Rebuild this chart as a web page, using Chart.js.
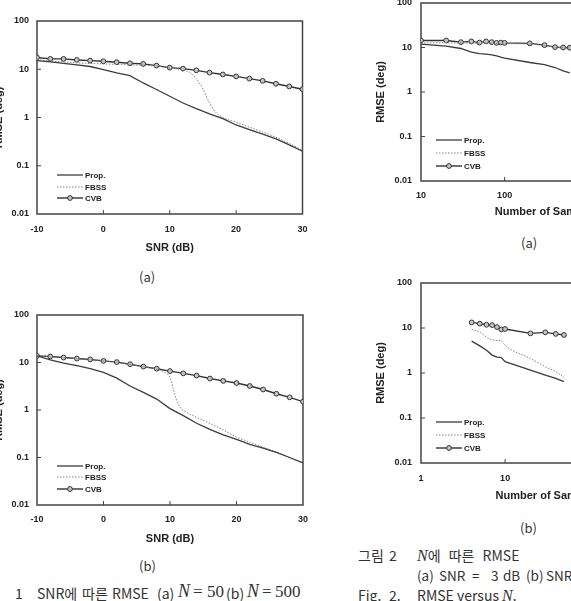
<!DOCTYPE html>
<html>
<head>
<meta charset="utf-8">
<script src="https://cdn.jsdelivr.net/npm/chart.js@4/dist/chart.umd.min.js"></script>
<style>
  html, body { margin: 0; padding: 0; background: #fff; }
  body { width: 571px; height: 601px; overflow: hidden; position: relative; }
  canvas { position: absolute; }
  .lbl { position: absolute; font-family: "Noto Sans CJK KR", "Noto Sans", sans-serif; font-size: 13px; line-height: 16px; color: #333; white-space: nowrap; }
  .cap { position: absolute; font-family: "Noto Sans CJK KR", "Noto Sans", sans-serif; font-size: 14px; line-height: 18px; color: #333; white-space: nowrap; }
  .sm { font-size: 13.5px; }
  .m { font-family: "Liberation Serif", "DejaVu Serif", serif; font-style: italic; font-size: 18px; }
  .mn { font-family: "Liberation Serif", "DejaVu Serif", serif; font-size: 17px; }
</style>
</head>
<body>
<canvas id="fig1a" width="330" height="259" style="left:-12px;top:0px"></canvas>
<canvas id="fig1b" width="330" height="250" style="left:-12px;top:300px"></canvas>
<canvas id="fig2a" width="324" height="243" style="left:370px;top:-20px"></canvas>
<canvas id="fig2b" width="324" height="247" style="left:370px;top:260px"></canvas>

<div class="lbl" style="left:139px;top:269px">(a)</div>
<div class="lbl" style="left:139px;top:558px">(b)</div>
<div class="lbl" style="left:521px;top:235px">(a)</div>
<div class="lbl" style="left:520px;top:520px">(b)</div>

<!-- Fig. 1 caption, placed word by word -->
<div class="cap" style="left:-25px;top:584px">그림</div>
<div class="cap" style="left:15px;top:584px">1</div>
<div class="cap" style="left:37px;top:584px">SNR에</div>
<div class="cap" style="left:82px;top:584px">따른</div>
<div class="cap" style="left:112px;top:584px">RMSE</div>
<div class="cap" style="left:157px;top:584px">(a)</div>
<div class="cap m" style="left:178px;top:582px">N</div>
<div class="cap mn" style="left:193px;top:583px">=</div>
<div class="cap mn" style="left:207px;top:583px">50</div>
<div class="cap" style="left:226px;top:584px">(b)</div>
<div class="cap m" style="left:247px;top:582px">N</div>
<div class="cap mn" style="left:262px;top:583px">=</div>
<div class="cap mn" style="left:275px;top:583px">500</div>

<!-- Fig. 2 caption -->
<div class="cap" style="left:358px;top:546px">그림</div>
<div class="cap" style="left:389px;top:546px">2</div>
<div class="cap" style="left:417px;top:546px;word-spacing:5px"><span class="m" style="font-size:16px">N</span>에 따른 RMSE</div>
<div class="cap sm" style="left:417px;top:566px">(a)</div>
<div class="cap sm" style="left:439px;top:566px">SNR</div>
<div class="cap sm" style="left:472px;top:566px">=</div>
<div class="cap sm" style="left:491px;top:566px">3</div>
<div class="cap sm" style="left:503px;top:566px">dB</div>
<div class="cap sm" style="left:526px;top:566px">(b)</div>
<div class="cap sm" style="left:546px;top:566px">SNR</div>
<div class="cap" style="left:358px;top:586px">Fig.</div>
<div class="cap" style="left:389px;top:586px">2.</div>
<div class="cap" style="left:417px;top:586px">RMSE versus <span class="m" style="font-size:16px">N</span>.</div>

<script>
// Fig. 1 - RMSE vs SNR
const snr = [-10, -8, -6, -4, -2, 0, 2, 4, 6, 8, 10, 12, 14, 16, 18, 20, 22, 24, 26, 28, 30];
const propA = [15.1, 14.2, 13.3, 12.3, 11.4, 9.8, 8.4, 7.4, 5.2, 3.8, 2.76, 2.0, 1.53, 1.19, 0.95, 0.70, 0.56, 0.45, 0.36, 0.27, 0.20];
const cvbA = [17.5, 16.4, 16.4, 15.6, 15.1, 14.6, 14.0, 13.3, 12.9, 11.9, 10.8, 10.3, 9.5, 8.5, 7.8, 7.1, 6.4, 5.75, 5.0, 4.4, 3.85];
const snrFbssA = [-10, -8, -6, -4, -2, 0, 2, 4, 6, 8, 10, 12, 13, 14, 15, 16, 17, 18, 20, 22, 24, 26, 28, 30];
const fbssA = [15.8, 14.8, 14.2, 13.6, 13.2, 12.9, 12.6, 12.3, 12.1, 11.6, 10.6, 9.6, 8.6, 6.4, 3.9, 2.0, 1.25, 1.0, 0.80, 0.63, 0.50, 0.39, 0.29, 0.21];

const propB = [13.8, 11.4, 9.7, 8.6, 7.4, 6.2, 4.7, 3.2, 2.35, 1.7, 1.07, 0.76, 0.525, 0.39, 0.30, 0.24, 0.19, 0.157, 0.128, 0.10, 0.077];
const cvbB = [13.8, 13.4, 12.7, 12.1, 11.6, 10.8, 10.2, 9.2, 8.2, 7.4, 6.6, 5.9, 5.3, 4.6, 4.1, 3.7, 3.2, 2.7, 2.2, 1.85, 1.5];
const snrFbssB = [-10, -8, -6, -4, -2, 0, 2, 4, 6, 8, 9, 10, 10.5, 11, 11.5, 12, 13, 14, 16, 18, 20, 22, 24, 26, 28, 30];
const fbssB = [13.6, 13.2, 12.6, 12.0, 11.5, 10.8, 10.1, 9.1, 8.1, 7.2, 6.4, 4.8, 2.8, 1.6, 1.15, 0.98, 0.82, 0.70, 0.52, 0.38, 0.27, 0.21, 0.165, 0.13, 0.098, 0.077];

// Fig. 2 - RMSE vs number of samples
const nA = [10, 20, 30, 40, 50, 60, 70, 80, 90, 100, 200, 300, 400, 500, 600];
const propNA = [11.9, 10.7, 9.5, 7.9, 7.3, 7.1, 6.85, 6.5, 6.1, 5.8, 4.6, 4.1, 3.55, 3.0, 2.7];
const fbssNA = [12.6, 12.8, 12.6, 12.6, 12.4, 12.5, 12.4, 12.3, 12.3, 12.2, 12.0, 11.0, 10.1, 9.9, 9.7];
const cvbNA = [14.4, 14.4, 13.2, 13.7, 12.9, 13.7, 13.2, 12.7, 12.9, 12.7, 12.4, 11.3, 10.2, 10.0, 9.9];

const nB = [4, 5, 6, 7, 8, 9, 10, 20, 30, 40, 50];
const propNB = [5.1, 4.0, 3.2, 2.5, 2.25, 2.2, 1.78, 1.16, 0.9, 0.76, 0.64];
const fbssNB = [9.3, 8.2, 6.3, 5.5, 5.3, 5.2, 4.1, 2.1, 1.38, 1.07, 0.80];
const cvbNB = [13.3, 12.5, 11.8, 11.6, 10.5, 9.3, 9.5, 7.6, 8.0, 7.4, 7.0];

const yTicks = [0.01, 0.1, 1, 10, 100];
const snrTicks = [-10, 0, 10, 20, 30];
const nTicksA = [10, 100, 1000, 10000];
const nTicksB = [1, 10, 100, 1000];

const tickFont = { family: 'Liberation Sans, Arial, sans-serif', size: 9, weight: 'bold' };
const titleFont = { family: 'Liberation Sans, Arial, sans-serif', size: 11, weight: 'bold' };
const legendFont = 'bold 8px Liberation Sans, Arial, sans-serif';

const pts = (xs, ys) => xs.map((x, i) => ({ x: x, y: ys[i] }));

function series(xp, yp, xf, yf, xc, yc) {
  return [
    { label: 'Prop.', data: pts(xp, yp), borderColor: '#3c3c3c', borderWidth: 1.3, pointRadius: 0 },
    { label: 'FBSS', data: pts(xf, yf), borderColor: '#808080', borderWidth: 1, borderDash: [1.5, 1.5], pointRadius: 0, cubicInterpolationMode: 'monotone' },
    { label: 'CVB', data: pts(xc, yc), borderColor: '#333', borderWidth: 1.4, pointRadius: 2.4, pointBorderWidth: 1, pointBorderColor: '#333', pointBackgroundColor: '#c4c4c4' }
  ];
}

// box round the plot, short inward ticks and the in-plot legend
const framePlugin = {
  id: 'frame',
  beforeDatasetsDraw(chart) {
    const { ctx, chartArea: a, scales } = chart;
    ctx.save();
    ctx.strokeStyle = '#444';
    ctx.lineWidth = 1.5;
    ctx.strokeRect(a.left, a.top, a.right - a.left, a.bottom - a.top);
    ctx.lineWidth = 1;
    ctx.beginPath();
    scales.y.ticks.forEach(t => {
      const py = scales.y.getPixelForValue(t.value);
      if (py > a.top + 2 && py < a.bottom - 2) { ctx.moveTo(a.left, py); ctx.lineTo(a.left + 4, py); }
    });
    scales.x.ticks.forEach(t => {
      const px = scales.x.getPixelForValue(t.value);
      if (px > a.left + 2 && px < a.right - 2) { ctx.moveTo(px, a.bottom); ctx.lineTo(px, a.bottom - 4); }
    });
    ctx.stroke();
    ctx.restore();
  },
  afterDraw(chart, args, opts) {
    const { ctx, chartArea: a } = chart;
    ctx.save();
    chart.data.datasets.forEach((ds, i) => {
      const y = a.bottom + opts.rows[i];
      const x0 = a.left + opts.x, x1 = x0 + 26;
      ctx.strokeStyle = ds.borderColor;
      ctx.lineWidth = ds.borderWidth;
      ctx.setLineDash(ds.borderDash || []);
      ctx.beginPath(); ctx.moveTo(x0, y); ctx.lineTo(x1, y); ctx.stroke();
      ctx.setLineDash([]);
      if (ds.pointRadius > 0) {
        ctx.beginPath(); ctx.arc((x0 + x1) / 2, y, ds.pointRadius, 0, Math.PI * 2);
        ctx.fillStyle = ds.pointBackgroundColor; ctx.fill();
        ctx.lineWidth = ds.pointBorderWidth; ctx.strokeStyle = ds.pointBorderColor; ctx.stroke();
      }
      ctx.fillStyle = '#222';
      ctx.font = legendFont;
      ctx.textBaseline = 'middle';
      ctx.fillText(ds.label, x1 + 2, y + 0.5);
    });
    ctx.restore();
  }
};

function makeChart(id, datasets, xs, g) {
  return new Chart(document.getElementById(id), {
    type: 'line',
    data: { datasets: datasets },
    options: {
      responsive: false,
      animation: false,
      layout: { padding: { top: g.top, right: g.right, left: 0, bottom: 0 } },
      plugins: {
        legend: { display: false },
        tooltip: { enabled: false },
        frame: { x: g.legX, rows: g.rows }
      },
      scales: {
        x: {
          type: xs.type, min: xs.min, max: xs.max,
          grid: { display: false, drawTicks: false },
          border: { display: false },
          afterBuildTicks: s => { s.ticks = xs.ticks.map(v => ({ value: v })); },
          afterFit: s => { s.height = g.xH; },
          ticks: { font: tickFont, color: '#222', padding: g.xPad, maxRotation: 0, autoSkip: false, callback: v => String(v) },
          title: { display: true, text: xs.title, font: titleFont, color: '#222', padding: { top: 4, bottom: 4 } }
        },
        y: {
          type: 'logarithmic', min: 0.01, max: 100,
          grid: { display: false, drawTicks: false },
          border: { display: false },
          afterBuildTicks: s => { s.ticks = yTicks.map(v => ({ value: v })); },
          afterFit: s => { s.width = g.yW; },
          ticks: { font: tickFont, color: '#222', padding: g.yPad, autoSkip: false, callback: v => String(v) },
          title: { display: true, text: 'RMSE (deg)', font: titleFont, color: '#222', padding: { top: 4, bottom: 4 } }
        }
      }
    },
    plugins: [framePlugin]
  });
}

const snrAxis = { type: 'linear', min: -10, max: 30, ticks: snrTicks, title: 'SNR (dB)' };

makeChart('fig1a', series(snr, propA, snrFbssA, fbssA, snr, cvbA), snrAxis,
  { top: 21, right: 15, yW: 49, yPad: 8, xH: 45, xPad: 10.5, legX: 20, rows: [-39, -27, -16] });
makeChart('fig1b', series(snr, propB, snrFbssB, fbssB, snr, cvbB), snrAxis,
  { top: 15, right: 15, yW: 49, yPad: 8, xH: 45, xPad: 9.6, legX: 20, rows: [-39, -28, -16] });
makeChart('fig2a', series(nA, propNA, nA, fbssNA, nA, cvbNA),
  { type: 'logarithmic', min: 10, max: 10000, ticks: nTicksA, title: 'Number of Samples' },
  { top: 23, right: 15, yW: 51, yPad: 9, xH: 42, xPad: 9.6, legX: 15, rows: [-41, -28, -15] });
makeChart('fig2b', series(nB, propNB, nB, fbssNB, nB, cvbNB),
  { type: 'logarithmic', min: 1, max: 1000, ticks: nTicksB, title: 'Number of Samples' },
  { top: 23, right: 15, yW: 51, yPad: 9, xH: 44, xPad: 10.6, legX: 15, rows: [-41, -28, -15] });
</script>
</body>
</html>
